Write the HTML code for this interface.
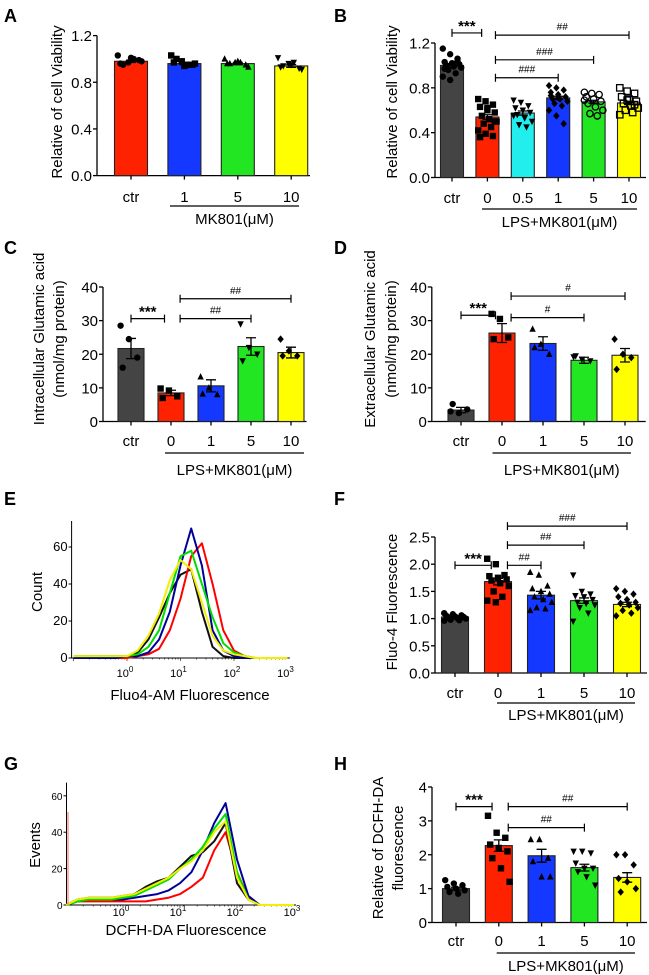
<!DOCTYPE html>
<html><head><meta charset="utf-8"><style>
html,body{margin:0;padding:0;background:#fff;}
svg{display:block;font-family:"Liberation Sans",Arial,sans-serif;}
</style></head><body>
<svg id="fig" width="649" height="975" viewBox="0 0 649 975" xmlns="http://www.w3.org/2000/svg"></svg>
<script>
// ---------- DATA ----------
const A_cats=['ctr','1','5','10'];
const A_means=[0.98,0.96,0.96,0.94];
const A_sems=[0.01,0.01,0.01,0.012];
const A_pts=[[1.03,0.97,0.99,0.96,1.01,0.98,0.95,1.0],[1.03,0.98,0.95,0.97,0.94,0.96,1.0,0.95],[1.0,0.97,0.95,0.96,0.98,0.93,0.96,0.97],[1.01,0.96,0.92,0.93,0.95,0.91,0.94,0.97]];

const B_cats=['ctr','0','0.5','1','5','10'];
const B_means=[1.0,0.54,0.575,0.71,0.675,0.665];
const B_sems=[0.015,0.02,0.018,0.015,0.014,0.015];
const B_pts=[[1.15,1.1,1.06,1.03,1.02,1.01,1.0,0.99,0.98,0.96,0.93,0.9,0.87,1.04,0.97],[0.7,0.68,0.65,0.63,0.6,0.58,0.55,0.52,0.5,0.48,0.45,0.42,0.39,0.37,0.36,0.62,0.5],[0.69,0.67,0.64,0.62,0.6,0.58,0.56,0.53,0.5,0.47,0.45,0.55],[0.82,0.8,0.78,0.76,0.74,0.72,0.7,0.7,0.68,0.66,0.64,0.6,0.55,0.48,0.73,0.71],[0.76,0.75,0.74,0.72,0.7,0.68,0.66,0.63,0.6,0.57,0.55,0.69],[0.8,0.77,0.75,0.72,0.7,0.68,0.66,0.64,0.62,0.6,0.58,0.56,0.69,0.65]];

const C_cats=['ctr','0','1','5','10'];
const C_means=[21.7,8.5,10.6,22.3,20.5];
const C_sems=[3.0,0.8,1.8,2.6,1.6];
const C_pts=[[28.5,24.5,19,16],[9.8,9.2,7.5,7.0],[13.3,10,8,8.2],[29,22,20,18],[24.5,21,19.5,19.5]];

const D_cats=['ctr','0','1','5','10'];
const D_means=[3.4,26.3,23.2,18.2,19.7];
const D_sems=[0.8,2.8,2.0,0.9,2.0];
const D_pts=[[3.0,2.5,3.6,5.2],[32,30.5,25,24.5],[27.5,23,20,22],[19.2,18.5,18,19.5],[24.5,20,19,15.5]];

const F_cats=['ctr','0','1','5','10'];
const F_means=[1.03,1.68,1.43,1.33,1.26];
const F_sems=[0.02,0.06,0.07,0.05,0.04];
const F_pts=[[1.1,1.08,1.06,1.05,1.04,1.03,1.02,1.01,1.0,0.98,0.97,0.96],[2.1,2.0,1.8,1.78,1.75,1.72,1.7,1.65,1.6,1.5,1.4,1.33,1.3],[1.85,1.8,1.6,1.55,1.5,1.45,1.4,1.35,1.3,1.2,1.18,1.15],[1.8,1.5,1.45,1.42,1.4,1.35,1.3,1.28,1.25,1.2,1.1,0.95],[1.55,1.5,1.45,1.4,1.35,1.3,1.28,1.25,1.2,1.15,1.1,1.05]];

const H_cats=['ctr','0','1','5','10'];
const H_means=[1.0,2.27,1.97,1.62,1.33];
const H_sems=[0.04,0.17,0.19,0.1,0.14];
const H_pts=[[1.25,1.15,1.1,1.05,1.0,0.95,0.9,0.85],[3.15,2.65,2.5,2.3,2.2,2.1,1.9,1.6,1.2],[2.45,2.45,1.9,1.8,1.35,1.35],[2.1,2.1,2.05,1.75,1.6,1.6,1.5,1.35,1.1],[2.0,2.0,1.7,1.3,1.2,1.0,0.9]];

// brackets: [fromIdx, toIdx, value, label]
const B_br=[[0,1,1.29,'***'],[1,5,1.27,'##'],[1,4,1.05,'###'],[1,3,0.89,'###']];
const C_br=[[0,1,30.6,'***'],[1,3,30.6,'##'],[1,4,36.5,'##']];
const D_br=[[0,1,31.6,'***'],[1,3,30.9,'#'],[1,4,37.3,'#']];
const F_br=[[0,1,1.98,'***'],[1,2,1.98,'##'],[1,3,2.35,'##'],[1,4,2.7,'###']];
const H_br=[[0,1,3.42,'***'],[1,4,3.42,'##'],[1,3,2.8,'##']];

// histograms: log10 positions and counts
const histLog=[-1,-0.8,-0.6,-0.4,-0.2,0,0.2,0.4,0.6,0.8,1.0,1.2,1.4,1.6,1.8,2.0,2.2,2.4,2.6,2.8,3.0];
const E_black=[1,1,1,1,1,1,3,10,22,35,45,48,25,6,1,0,0,0,0,0,0];
const E_yellow=[1,1,1,1,1,1,4,12,24,42,53,48,30,12,4,2,1,0,0,0,0];
const E_green=[1,1,1,1,1,1,2,6,15,35,55,58,40,22,8,3,1,0,0,0,0];
const E_blue=[0,0,0,0,0,1,1,3,10,25,50,70,50,15,4,1,0,0,0,0,0];
const E_red=[0,0,0,0,0,0,1,2,5,15,32,55,62,40,15,4,1,0,0,0,0];
const G_black=[0,3,4,4,4,5,6,10,13,15,21,27,29,35,45,12,3,0,0,0,0];
const G_yellow=[0,3,4,4,4,5,6,9,12,15,20,24,30,40,46,15,3,0,0,0,0];
const G_green=[0,2,3,3,3,4,5,8,11,14,20,25,32,42,50,18,3,0,0,0,0];
const G_blue=[0,2,3,3,3,3,4,5,6,8,12,18,30,45,56,25,5,0,0,0,0];
const G_red=[0,2,2,2,2,2,2,2,3,4,6,10,15,30,40,18,4,0,0,0,0];

// ---------- DRAWING ----------
const NS='http://www.w3.org/2000/svg';
const svg=document.getElementById('fig');
function el(tag,attrs,parent,text){
  const e=document.createElementNS(NS,tag);
  for(const k in attrs) e.setAttribute(k,attrs[k]);
  if(text!==undefined) e.textContent=text;
  (parent||svg).appendChild(e);
  return e;
}
const COLORS5=['#444444','#ff2200','#1438ff','#22e622','#ffff00'];
const COLORS6=['#444444','#ff2200','#22eeee','#1438ff','#22e622','#ffff00'];

function marker(g,type,x,y){
  const r=3.2;let m;
  if(type==='circle') m=el('circle',{cx:x,cy:y,r:r,fill:'#000'},g);
  else if(type==='ocircle') m=el('circle',{cx:x,cy:y,r:r,fill:'none',stroke:'#000','stroke-width':1.3},g);
  else if(type==='square') m=el('rect',{x:x-r,y:y-r,width:2*r,height:2*r,fill:'#000'},g);
  else if(type==='osquare') m=el('rect',{x:x-r,y:y-r,width:2*r,height:2*r,fill:'none',stroke:'#000','stroke-width':1.3},g);
  else if(type==='tri') m=el('polygon',{points:`${x},${y-r-0.5} ${x-r},${y+r-0.5} ${x+r},${y+r-0.5}`,fill:'#000'},g);
  else if(type==='itri') m=el('polygon',{points:`${x},${y+r+0.5} ${x-r},${y-r+0.5} ${x+r},${y-r+0.5}`,fill:'#000'},g);
  else m=el('polygon',{points:`${x},${y-r-0.5} ${x+r},${y} ${x},${y+r+0.5} ${x-r},${y}`,fill:'#000'},g);
  
  
}

function barPanel(p){
  const g=el('g',{});
  
  
  const ys=v=>p.y0-(v-p.min)/(p.max-p.min)*(p.y0-p.yTop);
  const xs=i=>p.cx0+i*p.step;
  const ya=el('line',{x1:p.ax,y1:p.yTop,x2:p.ax,y2:p.y0,stroke:'#000','stroke-width':1.3},g);
  
  const xa=el('line',{x1:p.ax,y1:p.y0,x2:p.axEnd,y2:p.y0,stroke:'#000','stroke-width':1.3},g);
  
  p.ticks.forEach(t=>{
    el('line',{x1:p.ax-4,y1:ys(t),x2:p.ax,y2:ys(t),stroke:'#000','stroke-width':1.3},g);
    const tl=el('text',{x:p.ax-5,y:ys(t)+5.5,'text-anchor':'end','font-size':15},g,t.toFixed(p.dec));
    
  });
  p.cats.forEach((c,i)=>{
    const x=xs(i),y=ys(p.means[i]);
    const b=el('rect',{x:x-p.bw/2,y:y,width:p.bw,height:p.y0-y,fill:p.colors[i],stroke:'#222','stroke-width':1.1},g);
    
    el('line',{x1:x,y1:p.y0,x2:x,y2:p.y0+4,stroke:'#000','stroke-width':1.3},g);
    const cl=el('text',{x:x,y:p.catY,'text-anchor':'middle','font-size':15},g,c);
    
    const pts=p.pts[i];
    pts.forEach((v,j)=>{
      const dx=((((j*37)%11)/10)-0.5)*p.bw*0.8;
      marker(g,p.markers[i],x+dx,ys(v));
    });
    const s=p.sems[i];
    const eb=el('path',{d:`M${x},${ys(p.means[i]-s)}V${ys(p.means[i]+s)}M${x-5},${ys(p.means[i]+s)}H${x+5}M${x-5},${ys(p.means[i]-s)}H${x+5}`,stroke:'#000','stroke-width':1.3,fill:'none'},g);
    
  });
  (p.br||[]).forEach(b=>{
    const x1=xs(b[0])+(b[0]===1?p.bw*0.35:0),x2=xs(b[1])-(b[1]===1?p.bw*0.25:0),y=ys(b[2]);
    const bl=el('path',{d:`M${x1},${y-4}V${y+4}M${x1},${y}H${x2}M${x2},${y-4}V${y+4}`,stroke:'#000','stroke-width':1.2,fill:'none'},g);
    
    const star=b[3]==='***';
    const t=el('text',{x:(x1+x2)/2,y:y-(star?2:5),'text-anchor':'middle','font-size':star?15:10,'font-weight':star?'bold':'normal'},g,b[3]);
    
  });
  if(p.group){
    const u=el('line',{x1:p.group[0],y1:p.group[2],x2:p.group[1],y2:p.group[2],stroke:'#000','stroke-width':1.2},g);
    
    const gt=el('text',{x:(p.group[0]+p.group[1])/2,y:p.group[3],'text-anchor':'middle','font-size':15},g,p.groupText);
    
  }
  p.titles.forEach(tt=>{
    const t=el('text',{x:0,y:0,'text-anchor':'middle','font-size':15,transform:`translate(${tt[0]},${p.titleCY}) rotate(-90)`},g,tt[1]);
    
  });
}

function panelLabel(t,x,y){
  const l=el('text',{x:x,y:y,'font-size':18,'font-weight':'bold'},svg,t);
  
  
}

barPanel({name:'panel-a-chart',ax:97,axEnd:310,y0:175.6,yTop:35.6,min:0,max:1.2,ticks:[0,0.4,0.8,1.2],dec:1,
  cx0:131,step:53.4,bw:33,cats:A_cats,means:A_means,sems:A_sems,pts:A_pts,colors:['#ff2200','#1438ff','#22e622','#ffff00'],
  markers:['circle','square','tri','itri'],catY:202,group:[170,299,206,224],groupText:'MK801(μM)',titles:[[62,'Relative of cell Viability']],titleCY:102});
barPanel({name:'panel-b-chart',ax:435,axEnd:646,y0:177.5,yTop:43,min:0,max:1.2,ticks:[0,0.4,0.8,1.2],dec:1,
  cx0:452,step:35.4,bw:23,cats:B_cats,means:B_means,sems:B_sems,pts:B_pts,colors:COLORS6,
  markers:['circle','square','itri','diamond','ocircle','osquare'],catY:203,br:B_br,group:[482,637,209,227],groupText:'LPS+MK801(μM)',titles:[[397,'Relative of cell Viability']],titleCY:102});
barPanel({name:'panel-c-chart',ax:103,axEnd:306.5,y0:421.5,yTop:287,min:0,max:40,ticks:[0,10,20,30,40],dec:0,
  cx0:131,step:40,bw:26,cats:C_cats,means:C_means,sems:C_sems,pts:C_pts,colors:COLORS5,
  markers:['circle','square','tri','itri','diamond'],catY:446,br:C_br,group:[165,304,453,475],groupText:'LPS+MK801(μM)',
  titles:[[44,'Intracellular Glutamic acid'],[64,'(nmol/mg protein)']],titleCY:339});
barPanel({name:'panel-d-chart',ax:431.8,axEnd:645.7,y0:421.5,yTop:287,min:0,max:40,ticks:[0,10,20,30,40],dec:0,
  cx0:461,step:41,bw:26,cats:D_cats,means:D_means,sems:D_sems,pts:D_pts,colors:COLORS5,
  markers:['circle','square','tri','itri','diamond'],catY:446,br:D_br,group:[492.5,631,453,475],groupText:'LPS+MK801(μM)',
  titles:[[375,'Extracellular Glutamic acid'],[396,'(nmol/mg protein)']],titleCY:339});
barPanel({name:'panel-f-chart',ax:435,axEnd:647,y0:673,yTop:537,min:0,max:2.5,ticks:[0,0.5,1,1.5,2,2.5],dec:1,
  cx0:455,step:43,bw:27,cats:F_cats,means:F_means,sems:F_sems,pts:F_pts,colors:COLORS5,
  markers:['circle','square','tri','itri','diamond'],catY:698,br:F_br,group:[497,635,703,720],groupText:'LPS+MK801(μM)',
  titles:[[397,'Fluo-4 Fluorescence']],titleCY:602});
barPanel({name:'panel-h-chart',ax:432,axEnd:647,y0:922.5,yTop:787,min:0,max:4,ticks:[0,1,2,3,4],dec:0,
  cx0:456,step:42.8,bw:27,cats:H_cats,means:H_means,sems:H_sems,pts:H_pts,colors:COLORS5,
  markers:['circle','square','tri','itri','diamond'],catY:946,br:H_br,group:[496.7,635,953,971],groupText:'LPS+MK801(μM)',
  titles:[[383,'Relative of DCFH-DA'],[403,'fluorescence']],titleCY:848});

function histPanel(p){
  const g=el('g',{});
  
  
  const xs=v=>p.x0+p.dec*v;
  const ys=v=>p.y0-v*p.ppu;
  const ya=el('line',{x1:p.ax,y1:p.yTop,x2:p.ax,y2:p.y0,stroke:'#000','stroke-width':1},g);
  
  const xa=el('line',{x1:p.ax,y1:p.y0,x2:p.axEnd,y2:p.y0,stroke:'#000','stroke-width':1},g);
  
  [0,20,40,60].forEach(t=>{
    el('line',{x1:p.ax-3,y1:ys(t),x2:p.ax,y2:ys(t),stroke:'#000','stroke-width':1},g);
    const tl=el('text',{x:p.ax-4,y:ys(t)+4,'text-anchor':'end','font-size':p.tfs},g,String(t));
    
  });
  for(let d=-1;d<3;d++){for(let k=1;k<10;k++){const x=xs(d+Math.log10(k));if(x>=p.ax)el('line',{x1:x,y1:p.y0,x2:x,y2:p.y0+(k===1?3:1.5),stroke:'#000','stroke-width':0.6},g);}}
  [0,1,2,3].forEach(d=>{
    const t=el('text',{x:xs(d)-2,y:p.labY,'text-anchor':'middle','font-size':11},g,'10');
    el('tspan',{dy:-5,'font-size':8},t,String(d));
    
  });
  p.series.forEach(s=>{
    const d=histLog.map((v,i)=>(i?'L':'M')+xs(v).toFixed(1)+','+ys(s[0][i]).toFixed(1)).join('');
    const l=el('path',{d:d,fill:'none',stroke:s[1],'stroke-width':2,'stroke-linejoin':'round'},g);
    
  });
  const xt=el('text',{x:p.xtX,y:p.xtY,'text-anchor':'middle','font-size':15},g,p.xTitle);
  
  const yt=el('text',{x:0,y:0,'text-anchor':'middle','font-size':15,transform:`translate(${p.ytX},${p.ytY}) rotate(-90)`},g,p.yTitle);
  
}
histPanel({name:'panel-e-histogram',ax:71.6,axEnd:289.8,x0:127,dec:53.5,y0:658,yTop:521,ppu:1.85,tfs:13,labY:677,
  series:[[E_black,'#111','black'],[E_red,'#ff0000','red'],[E_blue,'#000099','blue'],[E_green,'#00dd00','green'],[E_yellow,'#f0f000','yellow']],
  xtX:190,xtY:700,xTitle:'Fluo4-AM Fluorescence',ytX:42,ytY:592,yTitle:'Count'});
histPanel({name:'panel-g-histogram',ax:66.5,axEnd:296,x0:123,dec:57,y0:905,yTop:782.6,ppu:1.82,tfs:10,labY:916,
  series:[[G_red,'#ff0000','red'],[G_black,'#111','black'],[G_blue,'#000099','blue'],[G_green,'#00dd00','green'],[G_yellow,'#f0f000','yellow']],
  xtX:186,xtY:935,xTitle:'DCFH-DA Fluorescence',ytX:40,ytY:845,yTitle:'Events'});
const rl=el('line',{x1:68,y1:905,x2:68,y2:812,stroke:'#ff6666','stroke-width':1});



panelLabel('A',4,22);panelLabel('B',334,22);
panelLabel('C',4,254);panelLabel('D',334,254);
panelLabel('E',4,505);panelLabel('F',334,505);
panelLabel('G',4,770);panelLabel('H',334,770);
</script>
</body></html>
